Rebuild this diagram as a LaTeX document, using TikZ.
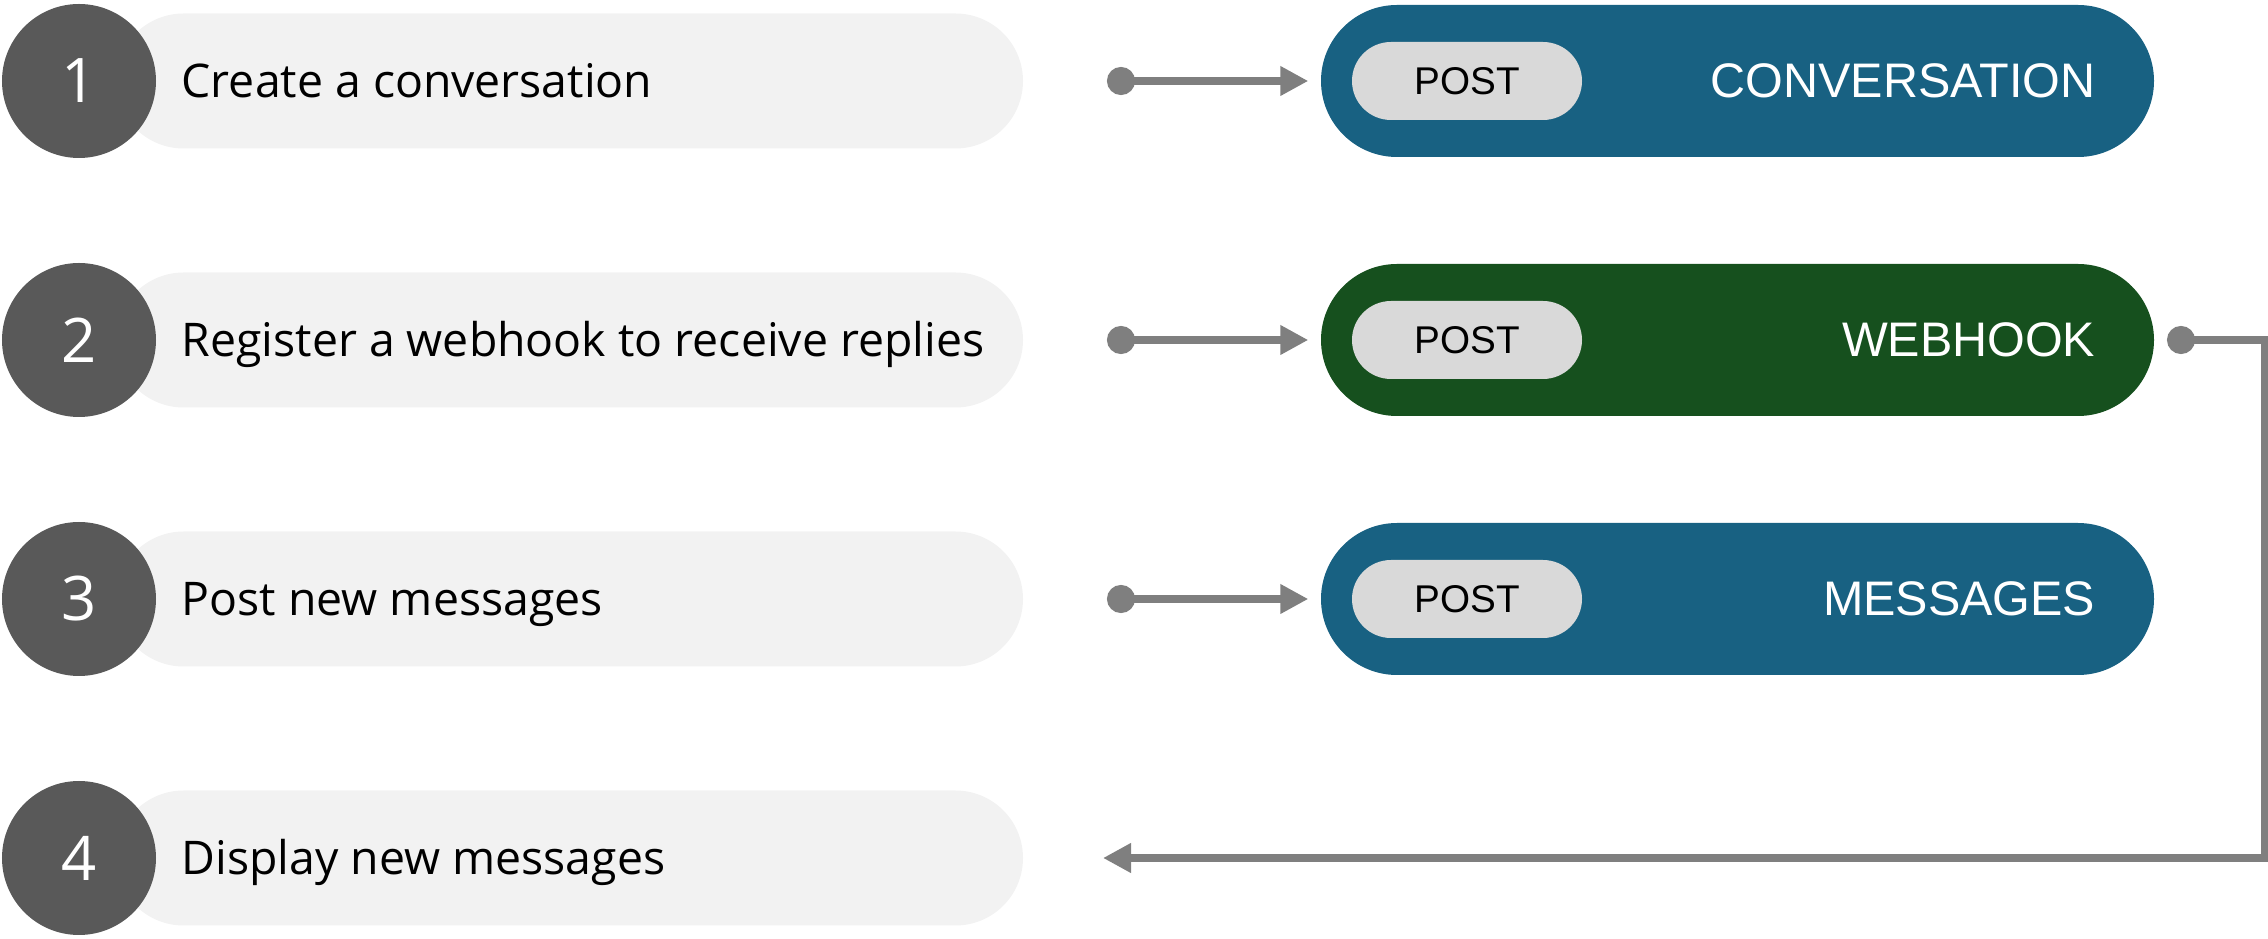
\documentclass[tikz,border=0pt]{standalone}
\usepackage{fontspec}
\setmainfont{Open Sans}
\newfontfamily\apifont{Liberation Sans}
\usetikzlibrary{arrows.meta, positioning, calc}
\definecolor{cStep}{RGB}{89,89,89}
\definecolor{cPill}{RGB}{242,242,242}
\definecolor{cBlue}{RGB}{24,97,130}
\definecolor{cGreen}{RGB}{22,80,30}
\definecolor{cTag}{RGB}{217,217,217}
\definecolor{cLink}{RGB}{127,127,127}
\tikzset{
	stepnum/.style ={circle, fill=cStep, minimum size=1.54cm, inner sep=0pt, text=white, font=\fontsize{17.5}{20}\selectfont},
	task/.style    ={rectangle, rounded corners=0.675cm, fill=cPill, minimum width=9.07cm, minimum height=1.35cm},
	tasktxt/.style ={anchor=base west, inner sep=0pt},
	api/.style     ={rectangle, rounded corners=0.76cm, minimum width=8.33cm, minimum height=1.52cm},
	tag/.style     ={rectangle, rounded corners=0.39cm, fill=cTag, minimum width=2.3cm, minimum height=0.78cm, font=\apifont\fontsize{11}{13}\selectfont},
	apitxt/.style  ={anchor=base east, inner sep=0pt, text=white, font=\apifont\fontsize{13.8}{16}\selectfont},
	link/.style    ={draw=cLink, line width=2pt, {Circle[length=0.28cm]}-{Triangle[length=0.28cm, width=0.28cm]}},
}
\begin{document}
\begin{tikzpicture}[font=\fontsize{13.2}{16}\selectfont]
	\useasboundingbox (0,0) rectangle (22.68,-9.39);
	\foreach \n/\y/\t in {1/-0.81/Create a conversation, 2/-3.40/Register a webhook to receive replies, 3/-5.99/Post new messages, 4/-8.58/Display new messages} {
		\node[task] (task\n) at (5.695,\y) {};
		\node[stepnum] (step\n) at (0.79,\y) {\n};
		\node[tasktxt] (txt\n) at (1.81,\y-0.165) {\t};
	}
	\foreach \n/\y/\c/\t in {1/-0.81/cBlue/CONVERSATION, 2/-3.40/cGreen/WEBHOOK, 3/-5.99/cBlue/MESSAGES} {
		\node[api, fill=\c] (api\n) at (17.375,\y) {};
		\node[tag] (tag\n) at (14.67,\y) {POST};
		\node[apitxt] (name\n) at (20.96,\y-0.17) {\t};
		\coordinate (src\n) at (11.07,\y);
		\draw[link, shorten >=0.12cm] (src\n) -- (api\n);
	}
	\coordinate (hook) at (21.67,-3.40);
	\coordinate (turn) at (22.64,-3.40);
	\coordinate (back) at (11.03,-8.58);
	\draw[link] (hook) -- (turn) |- (back);
\end{tikzpicture}
\end{document}
